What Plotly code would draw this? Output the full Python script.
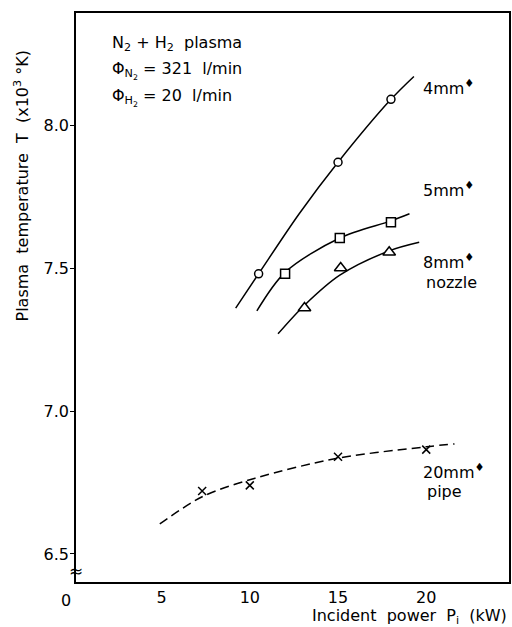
import plotly.graph_objects as go

# Measured points (incident power in kW, temperature in 10^3 K)
p_4mm = [10.5, 15.0, 18.0]
t_4mm = [7.48, 7.87, 8.09]
p_5mm = [12.0, 15.1, 18.0]
t_5mm = [7.48, 7.605, 7.66]
p_8mm = [13.1, 15.15, 17.9]
t_8mm = [7.36, 7.50, 7.555]
p_20mm = [7.3, 10.0, 15.0, 20.0]
t_20mm = [6.72, 6.74, 6.84, 6.865]

# Hand-drawn trend curves through the data
fit_p_4mm = [9.2, 10.5, 12.8, 15.0, 18.0, 19.3]
fit_t_4mm = [7.36, 7.48, 7.69, 7.87, 8.09, 8.17]
fit_p_5mm = [10.4, 12.0, 15.1, 18.0, 19.05]
fit_t_5mm = [7.35, 7.485, 7.605, 7.665, 7.69]
fit_p_8mm = [11.6, 13.1, 15.1, 17.9, 19.6]
fit_t_8mm = [7.27, 7.37, 7.475, 7.56, 7.59]
fit_p_20mm = [4.9, 7.3, 10.3, 15.0, 20.0, 21.6]
fit_t_20mm = [6.605, 6.70, 6.765, 6.835, 6.875, 6.885]

x_ticks = [5, 10, 15, 20]
y_ticks = [6.5, 7.0, 7.5, 8.0]

FONT = "DejaVu Sans"
fig = go.Figure()

curves = [
    (fit_p_4mm, fit_t_4mm, "solid"),
    (fit_p_5mm, fit_t_5mm, "solid"),
    (fit_p_8mm, fit_t_8mm, "solid"),
    (fit_p_20mm, fit_t_20mm, "9px,5px"),
]
for px, ty, dash in curves:
    fig.add_trace(go.Scatter(
        x=px, y=ty, mode="lines",
        line=dict(color="black", width=1.5, shape="spline", smoothing=0.9, dash=dash),
        hoverinfo="skip", showlegend=False))

markers = [
    (p_4mm, t_4mm, "circle", 8),
    (p_5mm, t_5mm, "square", 9),
    (p_8mm, t_8mm, "triangle-up", 11),
]
for px, ty, sym, size in markers:
    fig.add_trace(go.Scatter(
        x=px, y=ty, mode="markers",
        marker=dict(symbol=sym, size=size, color="white",
                    line=dict(color="black", width=1.5)),
        showlegend=False))
fig.add_trace(go.Scatter(
    x=p_20mm, y=t_20mm, mode="markers",
    marker=dict(symbol="x-thin-open", size=8, color="black",
                line=dict(color="black", width=1.5)),
    showlegend=False))

font = dict(family=FONT, size=16, color="black")
ann = [
    dict(x=19.72, y=8.133, text="4mm<sup>♦</sup>"),
    dict(x=19.72, y=7.773, text="5mm<sup>♦</sup>"),
    dict(x=19.72, y=7.524, text="8mm<sup>♦</sup>"),
    dict(x=19.85, y=7.448, text="nozzle"),
    dict(x=19.72, y=6.79, text="20mm<sup>♦</sup>"),
    dict(x=19.95, y=6.72, text="pipe"),
    dict(x=2.07, y=8.287, text="N<sub>2</sub> + H<sub>2</sub>  plasma"),
    dict(x=2.07, y=8.192, text="Φ<sub>N<sub>2</sub></sub> = 321  l/min"),
    dict(x=2.07, y=8.098, text="Φ<sub>H<sub>2</sub></sub> = 20  l/min"),
]
for a in ann:
    fig.add_annotation(x=a["x"], y=a["y"], text=a["text"], showarrow=False,
                       xanchor="left", yanchor="middle", font=font)

# origin label and axis-break mark
fig.add_annotation(x=0, y=0, xref="paper", yref="paper", text="0", showarrow=False,
                   xanchor="center", yanchor="top", xshift=-10, yshift=-7, font=font)
fig.add_annotation(x=0, y=6.44, xref="paper", yref="y", text="≈", showarrow=False,
                   xanchor="center", yanchor="middle", font=dict(family=FONT, size=17, color="black"))

# axis titles
fig.add_annotation(x=1, y=0, xref="paper", yref="paper", yshift=-22,
                   text="Incident  power  P<sub>i</sub>  (kW)", showarrow=False,
                   xanchor="right", yanchor="top", font=font)
fig.add_annotation(x=0, y=0.5, xref="paper", yref="paper", xshift=-54, yshift=112,
                   text="Plasma  temperature  T  (x10<sup>3</sup> °K)", showarrow=False,
                   textangle=-90, xanchor="center", yanchor="middle", font=font)

fig.update_xaxes(range=[0.15, 24.69], tickvals=x_ticks, ticktext=[str(v) for v in x_ticks],
                 showline=True, linecolor="black", linewidth=1.5, mirror=True,
                 ticks="", showgrid=False, zeroline=False, tickfont=font)
fig.update_yaxes(range=[6.402, 8.392], tickvals=y_ticks, ticktext=[f"{v:.1f}" for v in y_ticks],
                 showline=True, linecolor="black", linewidth=1.5, mirror=True,
                 ticks="outside", ticklen=4, tickwidth=1.2, tickcolor="black",
                 ticklabelstandoff=-2,
                 showgrid=False, zeroline=False, tickfont=font)

fig.update_layout(width=512, height=627, margin=dict(l=76, r=1, t=13, b=45),
                  plot_bgcolor="white", paper_bgcolor="white", showlegend=False)

fig.write_html("out.html")
